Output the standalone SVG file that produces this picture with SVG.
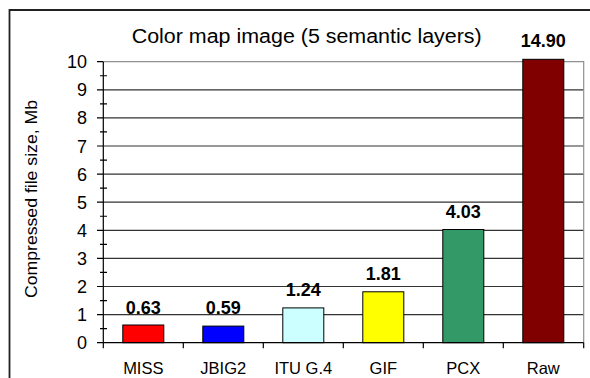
<svg xmlns="http://www.w3.org/2000/svg" width="590" height="378" viewBox="0 0 590 378">
  <style>
    text { font-family: "Liberation Sans", Arial, sans-serif; fill: #000; }
    .title { font-size: 20px; text-anchor: middle; }
    .tick { font-size: 18px; text-anchor: end; }
    .cat { font-size: 16.5px; text-anchor: middle; }
    .val { font-size: 18px; font-weight: bold; text-anchor: middle; }
    .axtitle { font-size: 16px; text-anchor: middle; }
    .grid { stroke: #333; stroke-width: 1.2; }
    .axis { stroke: #000; stroke-width: 1.2; fill: none; }
    .bar { stroke: #000; stroke-width: 1; }
  </style>

  <rect x="0" y="0" width="590" height="378" fill="#fff"/>

  <!-- chart frame -->
  <path d="M9.5 378 V10 H590" fill="none" stroke="#222" stroke-width="1.8"/>

  <!-- title -->
  <text class="title" x="306.7" y="42.7" textLength="350" lengthAdjust="spacingAndGlyphs">Color map image (5 semantic layers)</text>

  <!-- y axis title -->
  <text class="axtitle" transform="translate(37.3 199) rotate(-90)" textLength="198" lengthAdjust="spacingAndGlyphs">Compressed file size, Mb</text>

  <!-- gridlines and plot border -->
  <g id="grid">
    <line class="grid" x1="103.3" y1="314.6" x2="583.7" y2="314.6"/>
    <line class="grid" x1="103.3" y1="286.5" x2="583.7" y2="286.5"/>
    <line class="grid" x1="103.3" y1="258.4" x2="583.7" y2="258.4"/>
    <line class="grid" x1="103.3" y1="230.3" x2="583.7" y2="230.3"/>
    <line class="grid" x1="103.3" y1="202.2" x2="583.7" y2="202.2"/>
    <line class="grid" x1="103.3" y1="174.1" x2="583.7" y2="174.1"/>
    <line class="grid" x1="103.3" y1="146.0" x2="583.7" y2="146.0"/>
    <line class="grid" x1="103.3" y1="117.9" x2="583.7" y2="117.9"/>
    <line class="grid" x1="103.3" y1="89.8" x2="583.7" y2="89.8"/>
    <path d="M103.3 61.7 H583.7 V342.7" fill="none" stroke="#909090" stroke-width="1.2"/>
  </g>

  <!-- bars -->
  <g id="bar-miss"><rect class="bar" x="122.8" y="325.0" width="41" height="17.7" fill="#ff0000"/><text class="val" x="143.3" y="313.5">0.63</text><text class="cat" x="143.3" y="374">MISS</text></g>
  <g id="bar-jbig2"><rect class="bar" x="202.8" y="326.1" width="41" height="16.6" fill="#0000ff"/><text class="val" x="223.3" y="313.5">0.59</text><text class="cat" x="223.3" y="374">JBIG2</text></g>
  <g id="bar-itu"><rect class="bar" x="282.8" y="307.9" width="41" height="34.8" fill="#ccffff"/><text class="val" x="303.3" y="296.3">1.24</text><text class="cat" x="303.3" y="374">ITU G.4</text></g>
  <g id="bar-gif"><rect class="bar" x="362.8" y="291.8" width="41" height="50.9" fill="#ffff00"/><text class="val" x="383.3" y="280.3">1.81</text><text class="cat" x="383.3" y="374">GIF</text></g>
  <g id="bar-pcx"><rect class="bar" x="442.8" y="229.5" width="41" height="113.2" fill="#339966"/><text class="val" x="463.3" y="218.3">4.03</text><text class="cat" x="463.3" y="374">PCX</text></g>
  <g id="bar-raw"><rect class="bar" x="522.8" y="59.3" width="41" height="283.4" fill="#800000"/><text class="val" x="543.3" y="46.7">14.90</text><text class="cat" x="543.3" y="374">Raw</text></g>

  <!-- axes with ticks -->
  <g id="axes">
    <path class="axis" d="M103.3 61.7 V348.3 M103.3 342.7 H583.7"/>
    <!-- major y ticks -->
    <path class="axis" d="M97 342.7 H103.3 M97 314.6 H103.3 M97 286.5 H103.3 M97 258.4 H103.3 M97 230.3 H103.3 M97 202.2 H103.3 M97 174.1 H103.3 M97 146.0 H103.3 M97 117.9 H103.3 M97 89.8 H103.3 M97 61.7 H103.3"/>
    <!-- minor y ticks -->
    <path class="axis" d="M100 328.65 H107 M100 300.55 H107 M100 272.45 H107 M100 244.35 H107 M100 216.25 H107 M100 188.15 H107 M100 160.05 H107 M100 131.95 H107 M100 103.85 H107 M100 75.75 H107"/>
    <!-- x ticks -->
    <path class="axis" d="M183.3 342.7 V348.3 M263.3 342.7 V348.3 M343.3 342.7 V348.3 M423.3 342.7 V348.3 M503.3 342.7 V348.3 M583.7 342.7 V348.3"/>
  </g>

  <!-- y tick labels -->
  <g id="y-labels">
    <text class="tick" x="87" y="349.2">0</text>
    <text class="tick" x="87" y="321.1">1</text>
    <text class="tick" x="87" y="293.0">2</text>
    <text class="tick" x="87" y="264.9">3</text>
    <text class="tick" x="87" y="236.8">4</text>
    <text class="tick" x="87" y="208.7">5</text>
    <text class="tick" x="87" y="180.6">6</text>
    <text class="tick" x="87" y="152.5">7</text>
    <text class="tick" x="87" y="124.4">8</text>
    <text class="tick" x="87" y="96.3">9</text>
    <text class="tick" x="87" y="68.2">10</text>
  </g>
</svg>
